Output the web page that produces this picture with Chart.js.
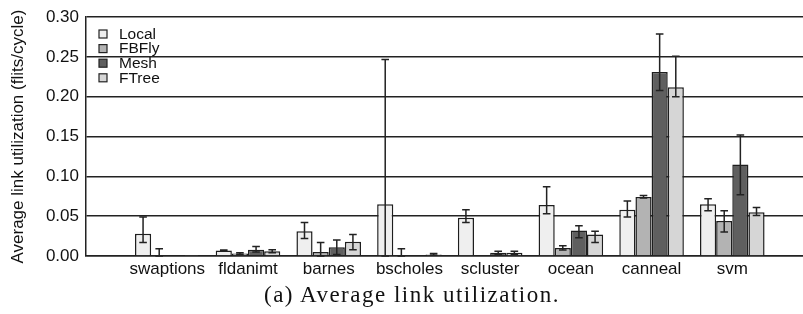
<!DOCTYPE html>
<html>
<head>
<meta charset="utf-8">
<script src="https://cdn.jsdelivr.net/npm/chart.js@4.4.1/dist/chart.umd.min.js"></script>
<style>
  html, body { margin: 0; padding: 0; background: #fff; overflow: hidden; }
  #wrap { position: absolute; left: 0; top: 0; width: 803px; height: 314px; }
  #caption { position: absolute; left: 0; top: 282px; width: 824px; text-align: center; font-family: "Liberation Serif", serif; font-size: 23px; line-height: 26px; letter-spacing: 1.5px; color: #111; }
</style>
</head>
<body>
<div id="wrap"><canvas id="chart"></canvas></div>
<div id="caption">(a) Average link utilization.</div>
<script>
const categories = ["swaptions", "fldanimt", "barnes", "bscholes", "scluster", "ocean", "canneal", "svm"];
const yTicks = [0, 0.05, 0.10, 0.15, 0.20, 0.25, 0.30];

const local   = [0.028, 0.007, 0.031, 0.065, 0.048, 0.064, 0.058, 0.065];
const localLo = [0.017, 0.006, 0.022, 0.000, 0.042, 0.053, 0.049, 0.057];
const localHi = [0.049, 0.0075, 0.042, 0.247, 0.058, 0.087, 0.069, 0.072];

const fbfly   = [0.0008, 0.003, 0.005, 0.001, 0.001, 0.010, 0.074, 0.044];
const fbflyLo = [0.000, 0.002, 0.000, 0.000, 0.001, 0.0075, 0.073, 0.030];
const fbflyHi = [0.009, 0.004, 0.017, 0.009, 0.001, 0.013, 0.076, 0.057];

const mesh    = [0.0008, 0.008, 0.011, 0.001, 0.004, 0.032, 0.231, 0.115];
const meshLo  = [0.0008, 0.005, 0.002, 0.001, 0.002, 0.023, 0.208, 0.077];
const meshHi  = [0.0008, 0.012, 0.020, 0.001, 0.006, 0.038, 0.279, 0.152];

const ftree   = [0.0005, 0.006, 0.018, 0.002, 0.004, 0.027, 0.212, 0.055];
const ftreeLo = [0.0005, 0.004, 0.008, 0.001, 0.002, 0.017, 0.200, 0.051];
const ftreeHi = [0.0005, 0.008, 0.027, 0.003, 0.006, 0.031, 0.251, 0.061];

const FONT = '"Liberation Sans", Arial, Helvetica, sans-serif';

function series(label, values, lo, hi, color) {
    return {
        label,
        data: values.map((v, i) => ({ x: i, y: v })),
        errLo: lo,
        errHi: hi,
        backgroundColor: color,
        borderColor: "#1e1e1e",
        borderWidth: 1.5,
    };
}

const errorBars = {
    id: "errorBars",
    afterDatasetsDraw(chart) {
        const ctx = chart.ctx;
        const y = chart.scales.y;
        const cap = 3.8;
        ctx.save();
        ctx.strokeStyle = "#222";
        ctx.lineWidth = 1.5;
        chart.data.datasets.forEach((ds, di) => {
            chart.getDatasetMeta(di).data.forEach((bar, i) => {
                const lo = ds.errLo[i], hi = ds.errHi[i];
                if (hi - lo < 1e-6) return;
                const yl = y.getPixelForValue(lo), yh = y.getPixelForValue(hi);
                ctx.beginPath();
                ctx.moveTo(bar.x, yl); ctx.lineTo(bar.x, yh);
                ctx.moveTo(bar.x - cap, yh); ctx.lineTo(bar.x + cap, yh);
                ctx.moveTo(bar.x - cap, yl); ctx.lineTo(bar.x + cap, yl);
                ctx.stroke();
            });
        });
        ctx.restore();
    },
};

// legend sits inside the plot, top left
const boxLegend = {
    id: "boxLegend",
    afterDraw(chart) {
        const ctx = chart.ctx;
        ctx.save();
        ctx.font = "15.5px " + FONT;
        ctx.textBaseline = "middle";
        chart.data.datasets.forEach((ds, i) => {
            const cy = 34 + i * 14.6;
            ctx.fillStyle = ds.backgroundColor;
            ctx.fillRect(99, cy - 4, 8, 8);
            ctx.strokeStyle = "#222";
            ctx.lineWidth = 1.2;
            ctx.strokeRect(99, cy - 4, 8, 8);
            ctx.fillStyle = "#111";
            ctx.fillText(ds.label, 119, cy + 0.5);
        });
        ctx.restore();
    },
};

new Chart(document.getElementById("chart"), {
    type: "bar",
    data: {
        datasets: [
            series("Local", local, localLo, localHi, "#efefef"),
            series("FBFly", fbfly, fbflyLo, fbflyHi, "#b3b3b3"),
            series("Mesh", mesh, meshLo, meshHi, "#5f5f5f"),
            series("FTree", ftree, ftreeLo, ftreeHi, "#d6d6d6"),
        ],
    },
    options: {
        responsive: true,
        maintainAspectRatio: false,
        animation: false,
        datasets: { bar: { categoryPercentage: 0.8, barPercentage: 1 } },
        layout: { padding: { top: 16, right: 0, left: 0, bottom: 0 } },
        plugins: { legend: { display: false }, tooltip: { enabled: false } },
        scales: {
            x: {
                type: "linear",
                offset: false,
                min: -1.007,
                max: 7.876,
                grid: { display: false, offset: false, drawTicks: false },
                border: { display: true, color: "#222", width: 1.5 },
                afterBuildTicks: (sc) => { sc.ticks = categories.map((c, i) => ({ value: i })); },
                afterFit: (sc) => { sc.height = 58; },
                ticks: {
                    callback: (v) => categories[v],
                    autoSkip: false,
                    maxRotation: 0,
                    padding: 3,
                    color: "#111",
                    font: { family: FONT, size: 17 },
                },
            },
            y: {
                min: 0,
                max: 0.3,
                afterBuildTicks: (sc) => { sc.ticks = yTicks.map((v) => ({ value: v })); },
                afterFit: (sc) => { sc.width = 86; },
                ticks: {
                    callback: (v) => v.toFixed(2),
                    padding: 7,
                    color: "#111",
                    font: { family: FONT, size: 17 },
                },
                grid: { color: "#222", lineWidth: 1.5, drawTicks: false },
                border: { color: "#222", width: 1.5 },
                title: {
                    display: true,
                    text: "Average link utilization (flits/cycle)",
                    color: "#111",
                    font: { family: FONT, size: 17 },
                    padding: { top: 8, bottom: 0 },
                },
            },
        },
    },
    plugins: [errorBars, boxLegend],
});
</script>
</body>
</html>
